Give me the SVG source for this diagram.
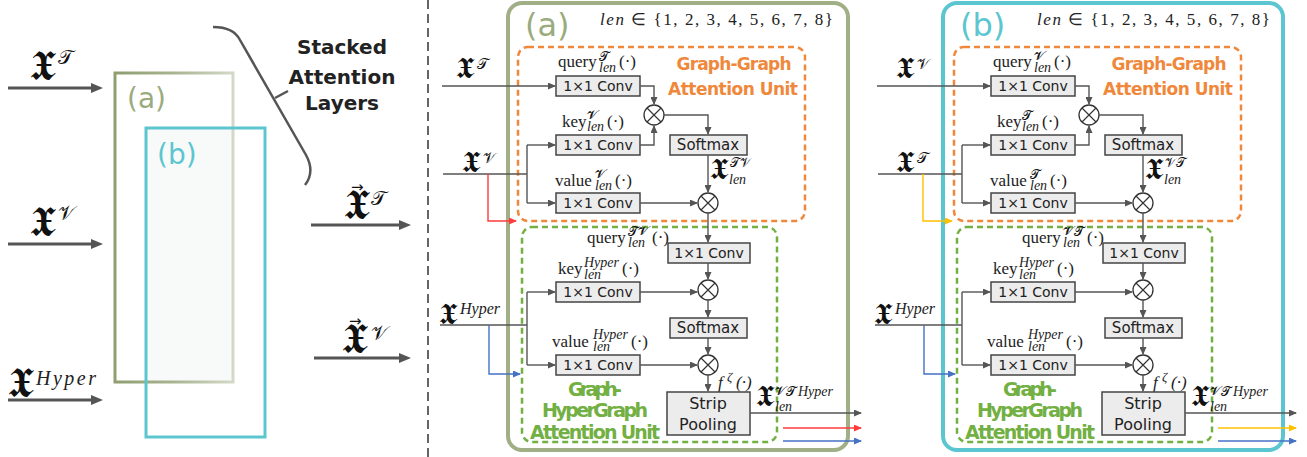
<svg xmlns="http://www.w3.org/2000/svg" width="1307" height="457" viewBox="0 0 1307 457">
<style>
.ln{fill:none;stroke:#555;stroke-width:1.4}
.big{fill:none;stroke:#555;stroke-width:3}
.box{fill:#ececec;stroke:#444;stroke-width:1.5}
.cir{fill:#fff;stroke:#333;stroke-width:1.3}
.crs{stroke:#333;stroke-width:1.2}
.bt{font-family:"DejaVu Sans",sans-serif;font-size:14px;fill:#222;text-anchor:middle}
.sm{font-family:"DejaVu Sans",sans-serif;font-size:15px;fill:#222;text-anchor:middle}
.sp{font-family:"DejaVu Sans",sans-serif;font-size:16px;fill:#222;text-anchor:middle}
.rm{font-family:"Liberation Serif",serif;font-size:17px;fill:#222}
.it{font-family:"Liberation Serif",serif;font-style:italic;fill:#222}
.s13{font-size:13px}
.s14{font-size:14px}
.mx{font-family:"DejaVu Serif","DejaVu Sans","Noto Sans",serif;fill:#111}
.ar{font-family:"DejaVu Sans",sans-serif}
.ttl{font-family:"DejaVu Sans",sans-serif;font-weight:bold;text-anchor:middle}
.or{fill:#f0883c}
.gr{fill:#72b043}
</style>
<defs>
<linearGradient id="gA" x1="0" y1="0" x2="1" y2="0">
<stop offset="0" stop-color="#8e9e70"/><stop offset="0.5" stop-color="#a8b490"/><stop offset="1" stop-color="#d3d9c7"/>
</linearGradient>
<marker id="ah" viewBox="0 0 8 7" refX="7" refY="3.5" markerWidth="8" markerHeight="7" markerUnits="userSpaceOnUse" orient="auto"><path d="M0,0 L8,3.5 L0,7 z" fill="#555"/></marker>
<marker id="ahR" viewBox="0 0 8 7" refX="7" refY="3.5" markerWidth="8" markerHeight="7" markerUnits="userSpaceOnUse" orient="auto"><path d="M0,0 L8,3.5 L0,7 z" fill="#ff3b3b"/></marker>
<marker id="ahB" viewBox="0 0 8 7" refX="7" refY="3.5" markerWidth="8" markerHeight="7" markerUnits="userSpaceOnUse" orient="auto"><path d="M0,0 L8,3.5 L0,7 z" fill="#4472c4"/></marker>
<marker id="ahY" viewBox="0 0 8 7" refX="7" refY="3.5" markerWidth="8" markerHeight="7" markerUnits="userSpaceOnUse" orient="auto"><path d="M0,0 L8,3.5 L0,7 z" fill="#ffc000"/></marker>
<marker id="bigah" viewBox="0 0 12 10" refX="2" refY="5" markerWidth="12" markerHeight="10" markerUnits="userSpaceOnUse" orient="auto"><path d="M0,0 L12,5 L0,10 z" fill="#555"/></marker>
</defs>
<rect width="1307" height="457" fill="#fff"/>

<!-- left overview -->
<g id="stack">
<rect x="146" y="128" width="87" height="254" fill="#f8fafa"/>
<rect x="115" y="73" width="118" height="309" fill="none" stroke="url(#gA)" stroke-width="3"/>
<rect x="146" y="128" width="119" height="309" fill="none" stroke="#5cc6d0" stroke-width="3"/>
<text x="127" y="108" font-family="DejaVu Sans,sans-serif" font-size="28" fill="#9aab7e">(a)</text>
<text x="157" y="164" font-family="DejaVu Sans,sans-serif" font-size="28" fill="#5cc6d0">(b)</text>
</g>
<g id="bracket">
<path d="M213,27 C228,27 236,32 240,40 L306,155 C312,166 312,176 305,185" fill="none" stroke="#555" stroke-width="2.5"/>
<path d="M275,98 L288,91" fill="none" stroke="#555" stroke-width="2.5"/>
<text class="ttl" x="342" y="54" font-size="20" fill="#222">Stacked</text>
<text class="ttl" x="342" y="84" font-size="20" fill="#222">Attention</text>
<text class="ttl" x="342" y="110" font-size="20" fill="#222">Layers</text>
</g>
<g id="left-inputs">
<text class="mx" x="30" y="80" font-size="42">𝖃<tspan x="58" y="64" font-size="20">𝒯</tspan></text>
<text class="mx" x="30" y="236" font-size="42">𝖃<tspan x="58" y="220" font-size="20">𝒱</tspan></text>
<text class="mx" x="8" y="397" font-size="42">𝖃<tspan class="it" x="36" y="385" font-size="20" textLength="60">Hyper</tspan></text>
</g>
<g id="left-outputs">
<text class="mx" x="344" y="219" font-size="42">𝖃<tspan class="ar" x="351" y="192" font-size="15">→</tspan><tspan x="371" y="205" font-size="20">𝒯</tspan></text>
<text class="mx" x="342" y="353" font-size="42">𝖃<tspan class="ar" x="349" y="326" font-size="15">→</tspan><tspan x="371" y="340" font-size="20">𝒱</tspan></text>
</g>
<g id="left-connectors">
<path class="big" d="M8,88 H93" marker-end="url(#bigah)"/>
<path class="big" d="M8,244 H93" marker-end="url(#bigah)"/>
<path class="big" d="M8,400 H93" marker-end="url(#bigah)"/>
<path class="big" d="M311,225 H401" marker-end="url(#bigah)"/>
<path class="big" d="M314,358 H401" marker-end="url(#bigah)"/>
</g>
<path id="separator" d="M428,0 V457" stroke="#333" stroke-width="1.5" stroke-dasharray="9 5"/>

<!-- panel (a) -->
<g id="panel-a">
<g id="a-frame">
<rect x="508" y="3" width="340" height="447" rx="14" fill="none" stroke="#a0af86" stroke-width="4"/>
<text x="525" y="36" font-family="DejaVu Sans,sans-serif" font-size="32" fill="#9aab7e">(a)</text>
<text class="rm" x="600" y="25" font-size="19" textLength="233"><tspan font-style="italic">len</tspan> ∈ {1, 2, 3, 4, 5, 6, 7, 8}</text>
</g>
<g id="a-gg-unit">
<rect x="518" y="47" width="287" height="174" rx="10" fill="none" stroke="#f0883c" stroke-width="2.5" stroke-dasharray="6 4"/>
<text class="ttl or" x="734" y="70" font-size="17" textLength="115">Graph-Graph</text>
<text class="ttl or" x="733" y="95" font-size="17" textLength="130">Attention Unit</text>
</g>
<g id="a-ghg-unit">
<rect x="522" y="227" width="255" height="215" rx="10" fill="none" stroke="#72b043" stroke-width="2.5" stroke-dasharray="6 4"/>
<text class="ttl gr" x="595" y="396" font-size="19" textLength="54">Graph-</text>
<text class="ttl gr" x="595" y="417" font-size="19" textLength="106">HyperGraph</text>
<text class="ttl gr" x="595" y="439" font-size="19" textLength="130">Attention Unit</text>
</g>
<g id="a-in-T"><text class="mx" x="456" y="78" font-size="30">𝖃<tspan x="477" y="69" font-size="15">𝒯</tspan></text></g>
<g id="a-in-V"><text class="mx" x="462" y="172" font-size="30">𝖃<tspan x="483" y="163" font-size="15">𝒱</tspan></text></g>
<g id="a-in-H"><text class="mx" x="439" y="324" font-size="30">𝖃<tspan class="it" x="460" y="314" font-size="16">Hyper</tspan></text></g>
<g id="a-query1">
<text class="rm" x="558" y="67">query<tspan class="mx" x="599" y="61" font-size="13">𝓣</tspan><tspan class="it" x="599" y="72" font-size="14">len</tspan><tspan x="619" y="67">(·)</tspan></text>
<rect class="box" x="556" y="76" width="84" height="20"/><text class="bt" x="598" y="91">1×1 Conv</text>
</g>
<g id="a-key1">
<text class="rm" x="562" y="127">key<tspan class="mx" x="587" y="120" font-size="13">𝓥</tspan><tspan class="it" x="587" y="131" font-size="14">len</tspan><tspan x="607" y="127">(·)</tspan></text>
<rect class="box" x="556" y="135" width="84" height="20"/><text class="bt" x="598" y="150">1×1 Conv</text>
</g>
<g id="a-value1">
<text class="rm" x="555" y="186">value<tspan class="mx" x="595" y="179" font-size="13">𝓥</tspan><tspan class="it" x="595" y="190" font-size="14">len</tspan><tspan x="615" y="186">(·)</tspan></text>
<rect class="box" x="556" y="193" width="84" height="20"/><text class="bt" x="598" y="208">1×1 Conv</text>
</g>
<g id="a-mul1"><circle class="cir" cx="654" cy="115" r="10"/><path class="crs" d="M647,108 L661,122 M661,108 L647,122"/></g>
<g id="a-softmax1"><rect class="box" x="670" y="135" width="77" height="20"/><text class="sm" x="708" y="150">Softmax</text></g>
<g id="a-att1"><text class="mx" x="710" y="179" font-size="30">𝖃<tspan x="730" y="167" font-size="13">𝒯𝒱</tspan><tspan class="it" x="729" y="184" font-size="14">len</tspan></text></g>
<g id="a-mul2"><circle class="cir" cx="708" cy="203" r="10"/><path class="crs" d="M701,196 L715,210 M715,196 L701,210"/></g>
<g id="a-query2">
<text class="rm" x="587" y="243">query<tspan class="mx" x="628" y="236" font-size="13">𝓣𝓥</tspan><tspan class="it" x="628" y="247" font-size="14">len</tspan><tspan x="652" y="243">(·)</tspan></text>
<rect class="box" x="668" y="243" width="82" height="20"/><text class="bt" x="709" y="258">1×1 Conv</text>
</g>
<g id="a-key2">
<text class="rm" x="558" y="274">key<tspan class="it" x="584" y="267" font-size="14">Hyper</tspan><tspan class="it" x="584" y="279" font-size="14">len</tspan><tspan x="622" y="274">(·)</tspan></text>
<rect class="box" x="556" y="282" width="84" height="20"/><text class="bt" x="598" y="297">1×1 Conv</text>
</g>
<g id="a-value2">
<text class="rm" x="552" y="347">value<tspan class="it" x="593" y="339" font-size="14">Hyper</tspan><tspan class="it" x="593" y="351" font-size="14">len</tspan><tspan x="631" y="347">(·)</tspan></text>
<rect class="box" x="556" y="355" width="84" height="20"/><text class="bt" x="598" y="370">1×1 Conv</text>
</g>
<g id="a-mul3"><circle class="cir" cx="708" cy="290" r="10"/><path class="crs" d="M701,283 L715,297 M715,283 L701,297"/></g>
<g id="a-softmax2"><rect class="box" x="670" y="318" width="77" height="20"/><text class="sm" x="708" y="333">Softmax</text></g>
<g id="a-mul4"><circle class="cir" cx="708" cy="365" r="10"/><path class="crs" d="M701,358 L715,372 M715,358 L701,372"/></g>
<g id="a-strip">
<text class="it" x="718" y="388" font-size="17">f<tspan x="727" y="381" font-size="13">ζ</tspan><tspan class="rm" x="736" y="388">(·)</tspan></text>
<rect class="box" x="667" y="392" width="83" height="43"/><text class="sp" x="708" y="409">Strip</text><text class="sp" x="708" y="430">Pooling</text>
</g>
<g id="a-out"><text class="mx" x="756" y="406" font-size="30">𝖃<tspan x="775" y="396" font-size="13">𝓥𝓣</tspan><tspan class="it" dx="2" font-size="14">Hyper</tspan><tspan class="it" x="775" y="411" font-size="14">len</tspan></text></g>
<g id="a-connectors">
<path class="ln" d="M442,86 H555" marker-end="url(#ah)"/>
<path class="ln" d="M640,86 H654 V104" marker-end="url(#ah)"/>
<path class="ln" d="M640,145 H654 V126" marker-end="url(#ah)"/>
<path class="ln" d="M664,115 H708 V134" marker-end="url(#ah)"/>
<path class="ln" d="M708,155 V192" marker-end="url(#ah)"/>
<path class="ln" d="M640,203 H697" marker-end="url(#ah)"/>
<path class="ln" d="M708,213 V242" marker-end="url(#ah)"/>
<path class="ln" d="M708,263 V279" marker-end="url(#ah)"/>
<path class="ln" d="M640,292 H697" marker-end="url(#ah)"/>
<path class="ln" d="M708,300 V317" marker-end="url(#ah)"/>
<path class="ln" d="M708,338 V354" marker-end="url(#ah)"/>
<path class="ln" d="M640,365 H697" marker-end="url(#ah)"/>
<path class="ln" d="M708,375 V391" marker-end="url(#ah)"/>
<path class="ln" d="M750,413 H861" marker-end="url(#ah)"/>
<path class="ln" d="M443,174 H527 M527,145 V203"/>
<path class="ln" d="M527,145 H555" marker-end="url(#ah)"/>
<path class="ln" d="M527,203 H555" marker-end="url(#ah)"/>
<path class="ln" d="M440,325 H527 M527,292 V365"/>
<path class="ln" d="M527,292 H555" marker-end="url(#ah)"/>
<path class="ln" d="M527,365 H555" marker-end="url(#ah)"/>
<path d="M488,174 V221 H516" fill="none" stroke="#ff3b3b" stroke-width="1.4" marker-end="url(#ahR)"/>
<path d="M783,428 H861" fill="none" stroke="#ff3b3b" stroke-width="1.6" marker-end="url(#ahR)"/>
<path d="M489,325 V374 H520" fill="none" stroke="#4472c4" stroke-width="1.4" marker-end="url(#ahB)"/>
<path d="M783,441 H861" fill="none" stroke="#4472c4" stroke-width="1.6" marker-end="url(#ahB)"/>
</g>
</g>

<!-- panel (b) -->
<g id="panel-b" transform="translate(435,0)">
<g id="b-frame">
<rect x="508" y="3" width="340" height="447" rx="14" fill="none" stroke="#5cc6d0" stroke-width="4"/>
<text x="525" y="36" font-family="DejaVu Sans,sans-serif" font-size="32" fill="#5cc6d0">(b)</text>
<text class="rm" x="602" y="25" font-size="19" textLength="233"><tspan font-style="italic">len</tspan> ∈ {1, 2, 3, 4, 5, 6, 7, 8}</text>
</g>
<g id="b-gg-unit">
<rect x="519" y="47" width="287" height="174" rx="10" fill="none" stroke="#f0883c" stroke-width="2.5" stroke-dasharray="6 4"/>
<text class="ttl or" x="734" y="70" font-size="17" textLength="115">Graph-Graph</text>
<text class="ttl or" x="733" y="95" font-size="17" textLength="130">Attention Unit</text>
</g>
<g id="b-ghg-unit">
<rect x="522" y="227" width="255" height="215" rx="10" fill="none" stroke="#72b043" stroke-width="2.5" stroke-dasharray="6 4"/>
<text class="ttl gr" x="595" y="396" font-size="19" textLength="54">Graph-</text>
<text class="ttl gr" x="595" y="417" font-size="19" textLength="106">HyperGraph</text>
<text class="ttl gr" x="595" y="439" font-size="19" textLength="130">Attention Unit</text>
</g>
<g id="b-in-V"><text class="mx" x="461" y="78" font-size="30">𝖃<tspan x="482" y="69" font-size="15">𝒱</tspan></text></g>
<g id="b-in-T"><text class="mx" x="461" y="172" font-size="30">𝖃<tspan x="482" y="163" font-size="15">𝒯</tspan></text></g>
<g id="b-in-H"><text class="mx" x="439" y="324" font-size="30">𝖃<tspan class="it" x="460" y="314" font-size="16">Hyper</tspan></text></g>
<g id="b-query1">
<text class="rm" x="558" y="67">query<tspan class="mx" x="599" y="61" font-size="13">𝓥</tspan><tspan class="it" x="599" y="72" font-size="14">len</tspan><tspan x="619" y="67">(·)</tspan></text>
<rect class="box" x="556" y="76" width="84" height="20"/><text class="bt" x="598" y="91">1×1 Conv</text>
</g>
<g id="b-key1">
<text class="rm" x="562" y="127">key<tspan class="mx" x="587" y="120" font-size="13">𝓣</tspan><tspan class="it" x="587" y="131" font-size="14">len</tspan><tspan x="607" y="127">(·)</tspan></text>
<rect class="box" x="556" y="135" width="84" height="20"/><text class="bt" x="598" y="150">1×1 Conv</text>
</g>
<g id="b-value1">
<text class="rm" x="555" y="186">value<tspan class="mx" x="595" y="179" font-size="13">𝓣</tspan><tspan class="it" x="595" y="190" font-size="14">len</tspan><tspan x="615" y="186">(·)</tspan></text>
<rect class="box" x="556" y="193" width="84" height="20"/><text class="bt" x="598" y="208">1×1 Conv</text>
</g>
<g id="b-mul1"><circle class="cir" cx="654" cy="115" r="10"/><path class="crs" d="M647,108 L661,122 M661,108 L647,122"/></g>
<g id="b-softmax1"><rect class="box" x="670" y="135" width="77" height="20"/><text class="sm" x="708" y="150">Softmax</text></g>
<g id="b-att1"><text class="mx" x="710" y="179" font-size="30">𝖃<tspan x="730" y="167" font-size="13">𝒱𝒯</tspan><tspan class="it" x="729" y="184" font-size="14">len</tspan></text></g>
<g id="b-mul2"><circle class="cir" cx="708" cy="203" r="10"/><path class="crs" d="M701,196 L715,210 M715,196 L701,210"/></g>
<g id="b-query2">
<text class="rm" x="587" y="243">query<tspan class="mx" x="628" y="236" font-size="13">𝓥𝓣</tspan><tspan class="it" x="628" y="247" font-size="14">len</tspan><tspan x="652" y="243">(·)</tspan></text>
<rect class="box" x="668" y="243" width="82" height="20"/><text class="bt" x="709" y="258">1×1 Conv</text>
</g>
<g id="b-key2">
<text class="rm" x="558" y="274">key<tspan class="it" x="584" y="267" font-size="14">Hyper</tspan><tspan class="it" x="584" y="279" font-size="14">len</tspan><tspan x="622" y="274">(·)</tspan></text>
<rect class="box" x="556" y="282" width="84" height="20"/><text class="bt" x="598" y="297">1×1 Conv</text>
</g>
<g id="b-value2">
<text class="rm" x="552" y="347">value<tspan class="it" x="593" y="339" font-size="14">Hyper</tspan><tspan class="it" x="593" y="351" font-size="14">len</tspan><tspan x="631" y="347">(·)</tspan></text>
<rect class="box" x="556" y="355" width="84" height="20"/><text class="bt" x="598" y="370">1×1 Conv</text>
</g>
<g id="b-mul3"><circle class="cir" cx="708" cy="290" r="10"/><path class="crs" d="M701,283 L715,297 M715,283 L701,297"/></g>
<g id="b-softmax2"><rect class="box" x="670" y="318" width="77" height="20"/><text class="sm" x="708" y="333">Softmax</text></g>
<g id="b-mul4"><circle class="cir" cx="708" cy="365" r="10"/><path class="crs" d="M701,358 L715,372 M715,358 L701,372"/></g>
<g id="b-strip">
<text class="it" x="718" y="388" font-size="17">f<tspan x="727" y="381" font-size="13">ζ</tspan><tspan class="rm" x="736" y="388">(·)</tspan></text>
<rect class="box" x="667" y="392" width="83" height="43"/><text class="sp" x="708" y="409">Strip</text><text class="sp" x="708" y="430">Pooling</text>
</g>
<g id="b-out"><text class="mx" x="756" y="406" font-size="30">𝖃<tspan x="775" y="396" font-size="13">𝓥𝓣</tspan><tspan class="it" dx="2" font-size="14">Hyper</tspan><tspan class="it" x="775" y="411" font-size="14">len</tspan></text></g>
<g id="b-connectors">
<path class="ln" d="M442,86 H555" marker-end="url(#ah)"/>
<path class="ln" d="M640,86 H654 V104" marker-end="url(#ah)"/>
<path class="ln" d="M640,145 H654 V126" marker-end="url(#ah)"/>
<path class="ln" d="M664,115 H708 V134" marker-end="url(#ah)"/>
<path class="ln" d="M708,155 V192" marker-end="url(#ah)"/>
<path class="ln" d="M640,203 H697" marker-end="url(#ah)"/>
<path class="ln" d="M708,213 V242" marker-end="url(#ah)"/>
<path class="ln" d="M708,263 V279" marker-end="url(#ah)"/>
<path class="ln" d="M640,292 H697" marker-end="url(#ah)"/>
<path class="ln" d="M708,300 V317" marker-end="url(#ah)"/>
<path class="ln" d="M708,338 V354" marker-end="url(#ah)"/>
<path class="ln" d="M640,365 H697" marker-end="url(#ah)"/>
<path class="ln" d="M708,375 V391" marker-end="url(#ah)"/>
<path class="ln" d="M750,413 H861" marker-end="url(#ah)"/>
<path class="ln" d="M443,174 H527 M527,145 V203"/>
<path class="ln" d="M527,145 H555" marker-end="url(#ah)"/>
<path class="ln" d="M527,203 H555" marker-end="url(#ah)"/>
<path class="ln" d="M440,325 H527 M527,292 V365"/>
<path class="ln" d="M527,292 H555" marker-end="url(#ah)"/>
<path class="ln" d="M527,365 H555" marker-end="url(#ah)"/>
<path d="M488,174 V221 H517" fill="none" stroke="#ffc000" stroke-width="1.4" marker-end="url(#ahY)"/>
<path d="M783,428 H861" fill="none" stroke="#ffc000" stroke-width="1.6" marker-end="url(#ahY)"/>
<path d="M489,325 V374 H520" fill="none" stroke="#4472c4" stroke-width="1.4" marker-end="url(#ahB)"/>
<path d="M783,441 H861" fill="none" stroke="#4472c4" stroke-width="1.6" marker-end="url(#ahB)"/>
</g>
</g>
</svg>
